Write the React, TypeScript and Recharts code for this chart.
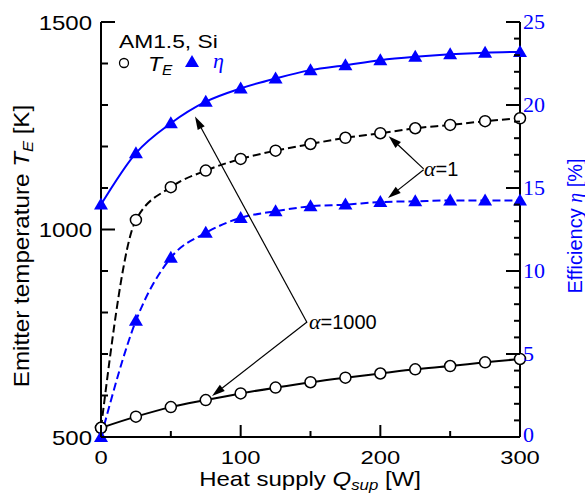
import React from 'react';
import { ComposedChart, Line, XAxis, YAxis, ReferenceLine } from 'recharts';

// heat supply Q_sup [W]
const heatSupply = [0, 25, 50, 75, 100, 125, 150, 175, 200, 225, 250, 275, 300];
// emitter temperature T_E [K]
const tempAlpha1000 = [522, 549, 572, 589, 605, 619, 632, 643, 653, 663, 671, 680, 688];
const tempAlpha1 = [522, 1023, 1102, 1142, 1170, 1190, 1206, 1221, 1232, 1244, 1252, 1261, 1268];
// efficiency eta [%]
const effAlpha1000 = [14.0, 17.1, 18.9, 20.2, 21.0, 21.6, 22.1, 22.4, 22.7, 22.9, 23.05, 23.15, 23.2];
const effAlpha1 = [0, 7.0, 10.8, 12.3, 13.2, 13.6, 13.9, 14.0, 14.15, 14.2, 14.25, 14.25, 14.25];

const xTicks = [0, 50, 100, 150, 200, 250, 300];
const xLabels = [0, 100, 200, 300];
const tempTicks = [500, 600, 700, 800, 900, 1000, 1100, 1200, 1300, 1400, 1500];
const tempLabels = [500, 1000, 1500];
const effTicks = Array.from({ length: 26 }, (_, i) => i);
const effLabels = [0, 5, 10, 15, 20, 25];

// annotation arrows, [Q, value] on the given axis (tail -> head)
const arrows = [
  { axis: 'temp', from: [231, 1146], to: [206, 1225] },
  { axis: 'eff', from: [231, 16.1], to: [205.5, 14.4] },
  { axis: 'eff', from: [147.5, 6.9], to: [67.3, 19.3] },
  { axis: 'temp', from: [147.5, 777], to: [79.5, 599] },
];

const data = heatSupply.map((q, i) => ({
  q,
  t1000: tempAlpha1000[i],
  t1: tempAlpha1[i],
  e1000: effAlpha1000[i],
  e1: effAlpha1[i],
}));

const SANS = '"Liberation Sans", Arial, sans-serif';
const SERIF = '"Liberation Serif", "Times New Roman", serif';
const BLUE = '#0000ff';

const circleDot = (p: any) => (
  <circle key={`c-${p.dataKey}-${p.index}`} cx={p.cx} cy={p.cy} r={5.5} fill="#fff" stroke="#000" strokeWidth={1.5} />
);

const triDot = (p: any) => (
  <polygon
    key={`t-${p.dataKey}-${p.index}`}
    points={`${p.cx - 7},${p.cy + 5} ${p.cx + 7},${p.cy + 5} ${p.cx},${p.cy - 7}`}
    fill={BLUE}
  />
);

const LeftTick = ({ x, y, payload }: any) => {
  const major = tempLabels.includes(payload.value);
  return (
    <g>
      <line x1={x} x2={x + (major ? 14 : 7)} y1={y} y2={y} stroke="#000" strokeWidth={2} />
      {major && (
        <text transform={`translate(${x - 9},${y + 7.5}) scale(1.2,1)`} textAnchor="end" fontFamily={SANS} fontSize={20} fill="#000">
          {payload.value}
        </text>
      )}
    </g>
  );
};

const RightTick = ({ x, y, payload }: any) => {
  const major = effLabels.includes(payload.value);
  return (
    <g>
      <line x1={x} x2={x - (major ? 14 : 6)} y1={y} y2={y} stroke="#000" strokeWidth={2} />
      {major && (
        <text transform={`translate(${x + 3},${y + (payload.value === 0 ? 5 : 7)})`} textAnchor="start" fontFamily={SERIF} fontSize={22} fill={BLUE}>
          {payload.value}
        </text>
      )}
    </g>
  );
};

const BottomTick = ({ x, y, payload }: any) => {
  const major = xLabels.includes(payload.value);
  return (
    <g>
      <line x1={x} x2={x} y1={y} y2={y - (major ? 12 : 6)} stroke="#000" strokeWidth={2} />
      {major && (
        <text transform={`translate(${x},${y + 27}) scale(1.25,1)`} textAnchor="middle" fontFamily={SANS} fontSize={19} fill="#000">
          {payload.value}
        </text>
      )}
    </g>
  );
};

const TopTick = ({ x, y, payload }: any) => {
  const major = xLabels.includes(payload.value);
  return <line x1={x} x2={x} y1={y} y2={y + (major ? 12 : 7)} stroke="#000" strokeWidth={2} />;
};

const ArrowShape = (p: any) => {
  const { x1, y1, x2, y2 } = p;
  const dx = x2 - x1;
  const dy = y2 - y1;
  const len = Math.hypot(dx, dy);
  const ux = dx / len;
  const uy = dy / len;
  const hl = 13;
  const hw = 4;
  const bx = x2 - ux * hl;
  const by = y2 - uy * hl;
  return (
    <g>
      <line x1={x1} y1={y1} x2={bx} y2={by} stroke="#000" strokeWidth={1.2} />
      <polygon points={`${x2},${y2} ${bx - uy * hw},${by + ux * hw} ${bx + uy * hw},${by - ux * hw}`} fill="#000" />
    </g>
  );
};

export default function App() {
  return (
    <div style={{ position: 'absolute', left: 0, top: 0 }}>
      <ComposedChart width={585} height={493} data={data} margin={{ top: 22, right: 0, bottom: 0, left: 0 }}>
        <XAxis
          dataKey="q"
          type="number"
          domain={[0, 300]}
          ticks={xTicks}
          interval={0}
          height={56}
          tickSize={0}
          tickMargin={0}
          tickLine={false}
          tick={BottomTick}
          axisLine={{ stroke: '#000', strokeWidth: 2 }}
        />
        <XAxis
          xAxisId="top"
          orientation="top"
          dataKey="q"
          type="number"
          domain={[0, 300]}
          ticks={xTicks}
          interval={0}
          height={0}
          tickSize={0}
          tickMargin={0}
          tickLine={false}
          tick={TopTick}
          axisLine={{ stroke: '#000', strokeWidth: 2 }}
        />
        <YAxis
          yAxisId="temp"
          type="number"
          domain={[500, 1500]}
          ticks={tempTicks}
          interval={0}
          width={101}
          tickSize={0}
          tickMargin={0}
          tickLine={false}
          tick={LeftTick}
          axisLine={{ stroke: '#000', strokeWidth: 2 }}
        />
        <YAxis
          yAxisId="eff"
          orientation="right"
          type="number"
          domain={[0, 25]}
          ticks={effTicks}
          interval={0}
          width={65}
          tickSize={0}
          tickMargin={0}
          tickLine={false}
          tick={RightTick}
          axisLine={{ stroke: '#000', strokeWidth: 2 }}
        />

        <Line yAxisId="temp" dataKey="t1000" type="monotone" stroke="#000" strokeWidth={2} dot={circleDot} activeDot={false} isAnimationActive={false} />
        <Line yAxisId="temp" dataKey="t1" type="monotone" stroke="#000" strokeWidth={2} strokeDasharray="8 4" dot={circleDot} activeDot={false} isAnimationActive={false} />
        <Line yAxisId="eff" dataKey="e1" type="monotone" stroke={BLUE} strokeWidth={2} strokeDasharray="8 4" dot={triDot} activeDot={false} isAnimationActive={false} />
        <Line yAxisId="eff" dataKey="e1000" type="monotone" stroke={BLUE} strokeWidth={2} dot={triDot} activeDot={false} isAnimationActive={false} />

        {arrows.map((a, i) => (
          <ReferenceLine
            key={`arrow-${i}`}
            yAxisId={a.axis}
            ifOverflow="visible"
            segment={[
              { x: a.from[0], y: a.from[1] },
              { x: a.to[0], y: a.to[1] },
            ]}
            shape={ArrowShape}
          />
        ))}

        {/* legend block */}
        <text transform="translate(119,48) scale(1.2,1)" fontFamily={SANS} fontSize={19} fill="#000">
          AM1.5, Si
        </text>
        <circle cx={124} cy={63} r={4.5} fill="#fff" stroke="#000" strokeWidth={1.3} />
        <text transform="translate(148,71) scale(1.1,1)" fontFamily={SANS} fontSize={21} fontStyle="italic" fill="#000">
          T<tspan fontSize={14} dy={4}>E</tspan>
        </text>
        <polygon points="185,67 199,67 192,55" fill={BLUE} />
        <text x={213} y={68} fontFamily={SERIF} fontSize={22} fontStyle="italic" fill={BLUE}>
          η
        </text>

        {/* alpha labels */}
        <text x={424} y={176} fontFamily={SANS} fontSize={20} fill="#000">
          <tspan fontFamily={SERIF} fontStyle="italic" fontSize={22}>α</tspan>=1
        </text>
        <text x={309} y={329} fontFamily={SANS} fontSize={20} fill="#000">
          <tspan fontFamily={SERIF} fontStyle="italic" fontSize={22}>α</tspan>=1000
        </text>

        {/* axis titles */}
        <text transform="translate(310,486) scale(1.2,1)" textAnchor="middle" fontFamily={SANS} fontSize={20} fill="#000">
          Heat supply <tspan fontStyle="italic">Q</tspan>
          <tspan fontStyle="italic" fontSize={14} dy={4}>sup</tspan>
          <tspan dy={-4}> [W]</tspan>
        </text>
        <text transform="translate(29,246) rotate(-90) scale(1.1,1)" textAnchor="middle" fontFamily={SANS} fontSize={22} fill="#000">
          Emitter temperature <tspan fontStyle="italic">T</tspan>
          <tspan fontStyle="italic" fontSize={15} dy={4}>E</tspan>
          <tspan dy={-4}> [K]</tspan>
        </text>
        <text transform="translate(582,226) rotate(-90)" textAnchor="middle" fontFamily={SANS} fontSize={20} fill={BLUE}>
          Efficiency <tspan fontFamily={SERIF} fontStyle="italic">η</tspan> [%]
        </text>
      </ComposedChart>
    </div>
  );
}
